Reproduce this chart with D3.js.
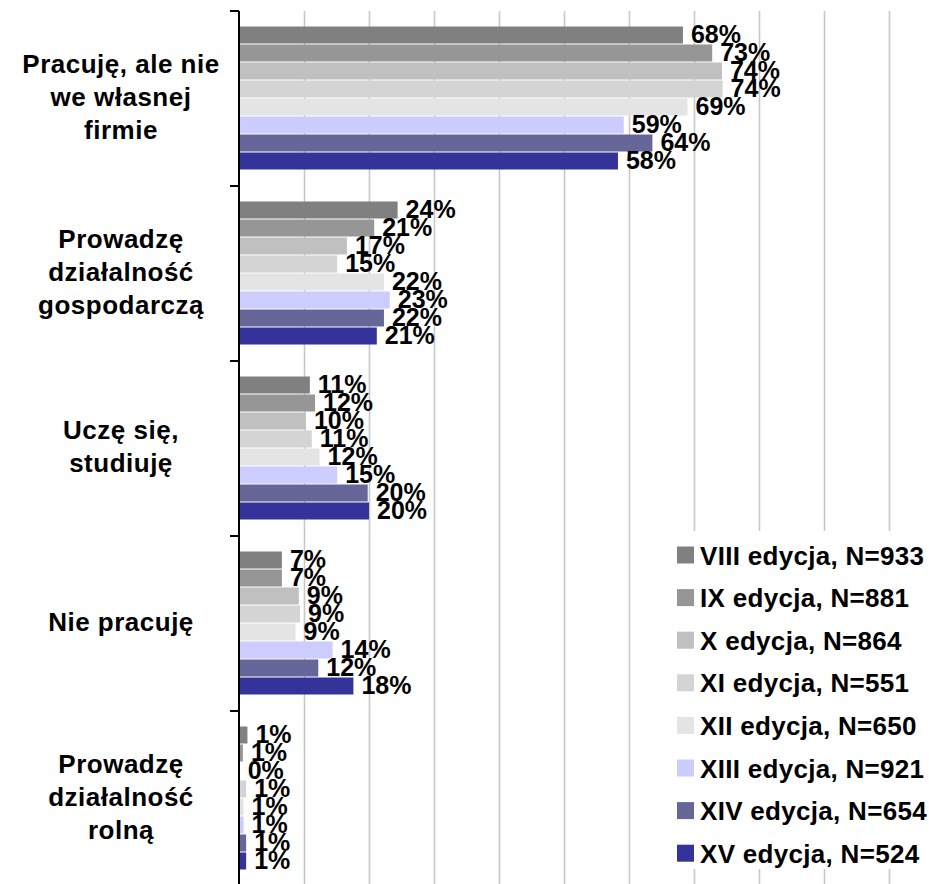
<!DOCTYPE html>
<html>
<head>
<meta charset="utf-8">
<script src="https://cdn.jsdelivr.net/npm/d3@7"></script>
<style>
  html, body { margin: 0; padding: 0; background: #ffffff; }
  svg { display: block; }
  text { font-family: "Liberation Sans", Arial, sans-serif; font-weight: bold; fill: #000; }
</style>
</head>
<body>
<svg id="chart" width="929" height="884"></svg>
<script>
// ---- data ----
const categories = [
  "Pracuję, ale nie we własnej firmie",
  "Prowadzę działalność gospodarczą",
  "Uczę się, studiuję",
  "Nie pracuję",
  "Prowadzę działalność rolną"
];
const categoryLines = [
  ["Pracuję, ale nie", "we własnej", "firmie"],
  ["Prowadzę", "działalność", "gospodarczą"],
  ["Uczę się,", "studiuję"],
  ["Nie pracuję"],
  ["Prowadzę", "działalność", "rolną"]
];
const seriesNames = [
  "VIII edycja, N=933",
  "IX edycja, N=881",
  "X edycja, N=864",
  "XI edycja, N=551",
  "XII edycja, N=650",
  "XIII edycja, N=921",
  "XIV edycja, N=654",
  "XV edycja, N=524"
];
const seriesColors = ["#808080", "#969696", "#c0c0c0", "#d4d4d4", "#e4e4e4", "#ccccff", "#666699", "#333399"];
// values per series, in category order
const vVIII = [68.3, 24.4, 10.9, 6.6, 1.3];
const vIX   = [72.8, 20.8, 11.7, 6.6, 0.6];
const vX    = [74.3, 16.6, 10.3, 9.2, 0.1];
const vXI   = [74.4, 15.1, 11.2, 9.4, 1.1];
const vXII  = [69.0, 22.3, 12.4, 8.7, 0.7];
const vXIII = [59.2, 23.2, 15.1, 14.4, 0.7];
const vXIV  = [63.6, 22.3, 19.8, 12.2, 1.1];
const vXV   = [58.3, 21.2, 20.0, 17.6, 1.1];
const seriesValues = [vVIII, vIX, vX, vXI, vXII, vXIII, vXIV, vXV];
const xTicks = [10, 20, 30, 40, 50, 60, 70, 80, 90, 100];

// ---- layout ----
const svg = d3.select("#chart");
const plotLeft = 239, plotRight = 889, plotTop = 11, plotBottom = 886;

const x = d3.scaleLinear().domain([0, 100]).range([plotLeft, plotRight]);
const y0 = d3.scaleBand().domain(categories).range([plotTop, plotBottom]).padding(0);
const groupPad = (y0.bandwidth() - 18 * seriesNames.length) / 2;
const y1 = d3.scaleBand().domain(seriesNames).range([groupPad, y0.bandwidth() - groupPad]).padding(0);

// gridlines
const grid = svg.append("g")
  .attr("transform", `translate(0,${plotBottom})`)
  .call(d3.axisBottom(x).tickValues(xTicks).tickSize(-(plotBottom - plotTop)).tickFormat(""));
grid.select(".domain").remove();
grid.selectAll(".tick line").attr("stroke", "#c8c8c8").attr("stroke-width", 1.6);

// bars
const rows = [];
categories.forEach((c, ci) => {
  seriesNames.forEach((s, si) => {
    rows.push({ c, s, si, v: seriesValues[si][ci] });
  });
});

const g = svg.append("g");
g.selectAll("rect.bar").data(rows).enter().append("rect")
  .attr("class", "bar")
  .attr("x", x(0))
  .attr("y", d => y0(d.c) + y1(d.s))
  .attr("width", d => x(d.v) - x(0))
  .attr("height", y1.bandwidth() - 1)
  .attr("fill", d => seriesColors[d.si]);

// value labels
g.selectAll("text.val").data(rows).enter().append("text")
  .attr("class", "val")
  .attr("x", d => x(d.v) + 8)
  .attr("y", d => y0(d.c) + y1(d.s) + y1.bandwidth() / 2 + 7.5)
  .attr("font-size", 25)
  .text(d => Math.round(d.v) + "%");

// y axis
const yAxis = svg.append("g")
  .attr("transform", `translate(${plotLeft},0)`)
  .call(d3.axisLeft(y0).tickSize(0).tickFormat(""));
yAxis.select(".domain").attr("stroke", "#000").attr("stroke-width", 2)
  .attr("d", `M0,${plotTop}V${plotBottom}`);
const boundaries = categories.map(c => y0(c)).concat([plotBottom]);
yAxis.selectAll("line.bnd").data(boundaries).enter().append("line")
  .attr("class", "bnd")
  .attr("x1", -9).attr("x2", 0)
  .attr("y1", d => d).attr("y2", d => d)
  .attr("stroke", "#000").attr("stroke-width", 2);

// category labels
const catG = svg.append("g");
categories.forEach((c, ci) => {
  const lines = categoryLines[ci];
  const cy = y0(c) + y0.bandwidth() / 2;
  const lh = 33;
  lines.forEach((ln, li) => {
    catG.append("text")
      .attr("x", 121)
      .attr("y", cy + 7 + (li - (lines.length - 1) / 2) * lh)
      .attr("text-anchor", "middle")
      .attr("font-size", 26)
      .attr("letter-spacing", 0.5)
      .text(ln);
  });
});

// legend
const leg = svg.append("g");
leg.append("rect").attr("x", 668).attr("y", 531).attr("width", 261).attr("height", 338).attr("fill", "#fff");
seriesNames.forEach((s, si) => {
  const cy = 555 + si * 42.6;
  leg.append("rect").attr("x", 677).attr("y", cy - 8.5).attr("width", 17).attr("height", 17)
    .attr("fill", seriesColors[si]);
  leg.append("text").attr("x", 700).attr("y", cy + 9.5).attr("font-size", 26)
    .attr("letter-spacing", 0.3).text(s);
});
</script>
</body>
</html>
